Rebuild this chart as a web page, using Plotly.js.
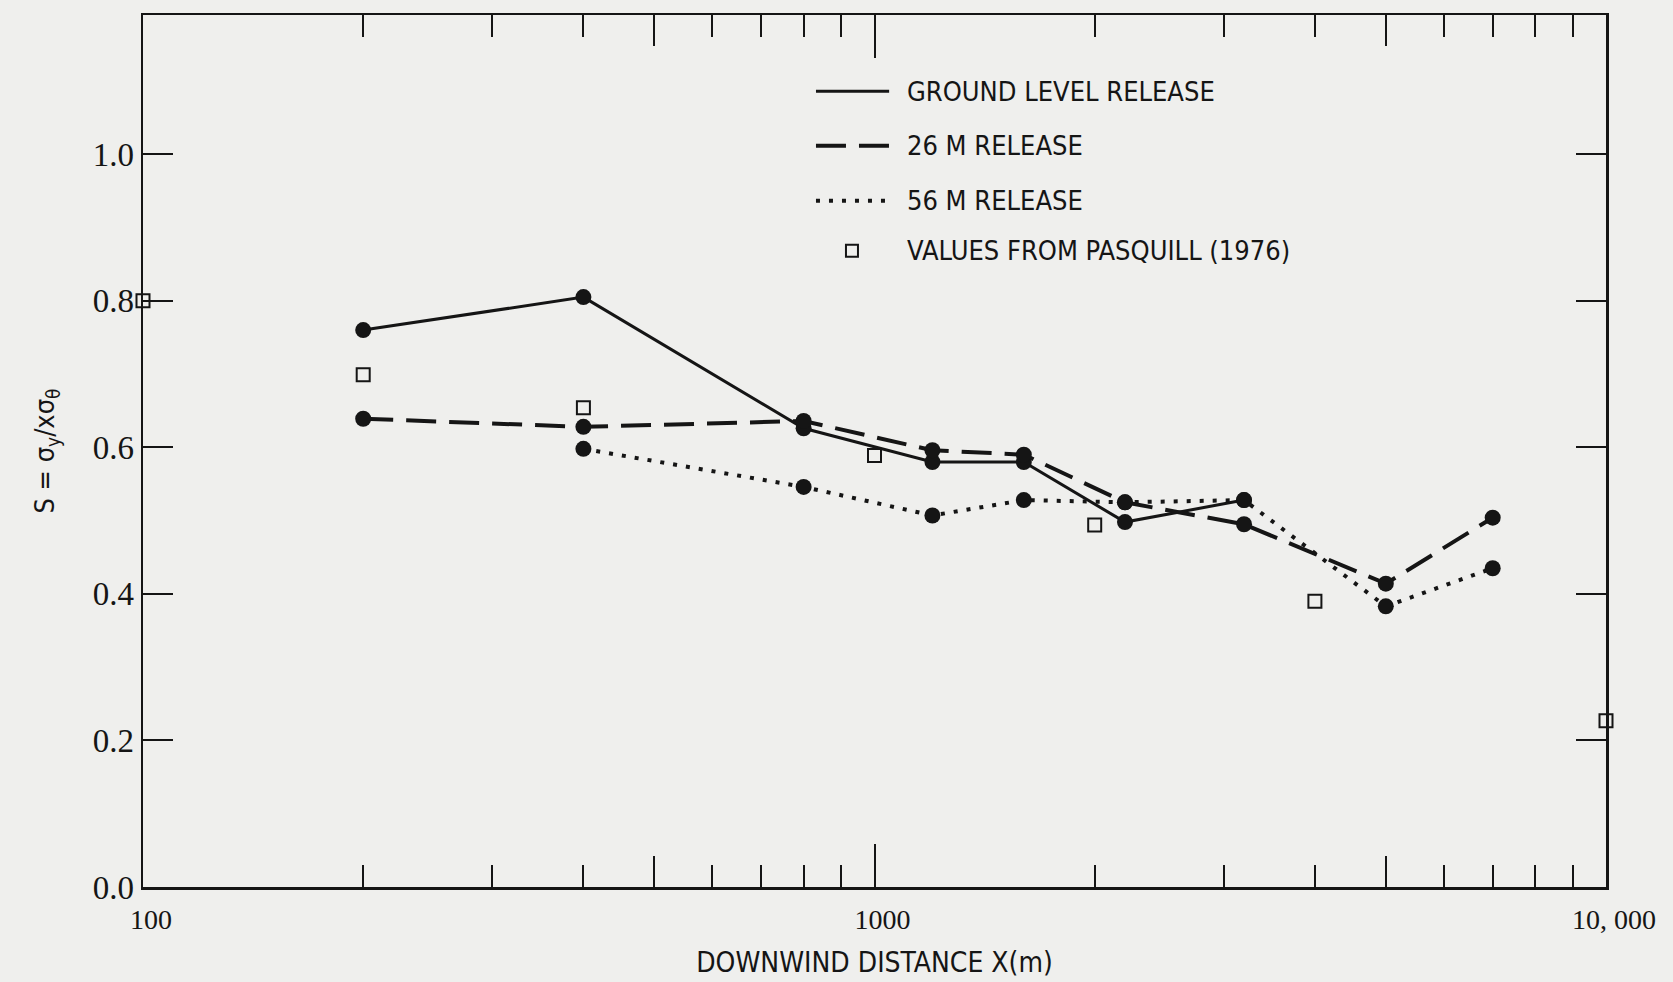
<!DOCTYPE html>
<html>
<head>
<meta charset="utf-8">
<script src="https://cdn.plot.ly/plotly-3.0.1.min.js"></script>
<style>
  html, body { margin: 0; padding: 0; background: #efefed; }
  #chart { width: 1673px; height: 982px; }
</style>
</head>
<body>
<div id="chart"></div>
<script>
// Normalized lateral spread S = sigma_y / (x sigma_theta) against downwind distance
const distGround = [200, 400, 800, 1200, 1600, 2200, 3200];
const sGround    = [0.760, 0.805, 0.626, 0.580, 0.580, 0.498, 0.528];

const dist26 = [200, 400, 800, 1200, 1600, 2200, 3200, 5000, 7000];
const s26    = [0.639, 0.628, 0.636, 0.596, 0.590, 0.525, 0.495, 0.414, 0.504];

const dist56 = [400, 800, 1200, 1600, 2200, 3200, 5000, 7000];
const s56    = [0.598, 0.546, 0.507, 0.528, 0.525, 0.528, 0.383, 0.435];

const distPasquill = [100, 200, 400, 1000, 2000, 4000, 10000];
const sPasquill    = [0.800, 0.699, 0.654, 0.589, 0.494, 0.390, 0.227];

const legendLabels = ['GROUND LEVEL RELEASE', '26 M RELEASE', '56 M RELEASE', 'VALUES FROM PASQUILL (1976)'];

const xTickVals = [100, 1000, 10000];
const xTickText = ['100', '1000', '10, 000'];
const xMinorVals = [200, 300, 400, 500, 600, 700, 800, 900, 2000, 3000, 4000, 5000, 6000, 7000, 8000, 9000];
const xMidVals = [500, 5000];

const INK = '#151515';
const BG = '#efefed';
const labelFont = '"DejaVu Sans Condensed", "Liberation Sans Narrow", "DejaVu Sans", sans-serif';
const numFont = '"Liberation Serif", "DejaVu Serif", serif';

const dot = { size: 16, color: INK };

const traces = [
  { x: distGround, y: sGround, type: 'scatter', mode: 'lines+markers', name: legendLabels[0],
    line: { color: INK, width: 3 }, marker: dot, cliponaxis: false },
  { x: dist26, y: s26, type: 'scatter', mode: 'lines+markers', name: legendLabels[1],
    line: { color: INK, width: 4, dash: '30px,13px' }, marker: dot, cliponaxis: false },
  { x: dist56, y: s56, type: 'scatter', mode: 'lines+markers', name: legendLabels[2],
    line: { color: INK, width: 4, dash: '4px,9px' }, marker: dot, cliponaxis: false },
  { x: distPasquill, y: sPasquill, type: 'scatter', mode: 'markers', name: legendLabels[3],
    marker: { symbol: 'square', size: 13, color: BG, line: { color: INK, width: 2 } }, cliponaxis: false },
  // carrier for the mid-length tick axis
  { x: [], y: [], xaxis: 'x2', type: 'scatter', mode: 'markers', showlegend: false, hoverinfo: 'skip' }
];

// hand-drawn key in the upper middle of the plot
const keyX0 = 0.460, keyX1 = 0.510, keyTextX = 0.521;
const keyRows = [0.9125, 0.850, 0.787, 0.7296];
const keyDash = ['solid', '30px,13px', '4px,9px'];
const keyWidth = [3, 4, 4];

const shapes = [];
for (let i = 0; i < 3; i++) {
  shapes.push({ type: 'line', xref: 'paper', yref: 'paper', x0: keyX0, x1: keyX1, y0: keyRows[i], y1: keyRows[i],
    line: { color: INK, width: keyWidth[i], dash: keyDash[i] } });
}
shapes.push({ type: 'rect', xref: 'paper', yref: 'paper', xsizemode: 'pixel', ysizemode: 'pixel',
  xanchor: 0.4846, yanchor: keyRows[3], x0: -6, x1: 6, y0: -6, y1: 6,
  line: { color: INK, width: 2 }, fillcolor: BG });

const annotations = legendLabels.map((t, i) => ({
  text: t, xref: 'paper', yref: 'paper', x: keyTextX, y: keyRows[i], xanchor: 'left', yanchor: 'middle',
  showarrow: false, font: { family: labelFont, size: 27, color: INK }
}));

const layout = {
  width: 1673, height: 982,
  paper_bgcolor: BG, plot_bgcolor: BG,
  margin: { l: 143, r: 67, t: 15, b: 95 },
  showlegend: false,
  xaxis: {
    type: 'log', range: [2, 4],
    showline: true, linecolor: INK, linewidth: 2.5, mirror: 'ticks',
    showgrid: false, zeroline: false,
    ticks: 'inside', ticklen: 43, tickwidth: 2, tickcolor: INK,
    tickvals: xTickVals, ticktext: xTickText,
    ticklabelshift: 8, ticklabelstandoff: 6,
    tickfont: { family: numFont, size: 28, color: INK },
    minor: { tickvals: xMinorVals, ticks: 'inside', ticklen: 22, tickwidth: 2, tickcolor: INK, showgrid: false },
    title: { text: 'DOWNWIND DISTANCE X(m)', font: { family: labelFont, size: 28, color: INK }, standoff: 19 }
  },
  xaxis2: {
    type: 'log', range: [2, 4], overlaying: 'x', anchor: 'y', side: 'bottom',
    showline: false, mirror: 'ticks', showgrid: false, zeroline: false,
    ticks: 'inside', ticklen: 31, tickwidth: 2, tickcolor: INK,
    tickvals: xMidVals, showticklabels: false
  },
  yaxis: {
    range: [0, 1.19],
    showline: true, linecolor: INK, linewidth: 2.5, mirror: 'ticks',
    showgrid: false, zeroline: false,
    ticks: 'inside', ticklen: 30, tickwidth: 2, tickcolor: INK,
    tick0: 0, dtick: 0.2, tickformat: '.1f',
    tickfont: { family: numFont, size: 33, color: INK },
    title: { text: 'S = σ<sub>y</sub>/xσ<sub>θ</sub>', font: { family: labelFont, size: 27, color: INK }, standoff: 30 }
  },
  shapes: shapes,
  annotations: annotations
};

Plotly.newPlot('chart', traces, layout, { staticPlot: true, displayModeBar: false });
</script>
</body>
</html>
